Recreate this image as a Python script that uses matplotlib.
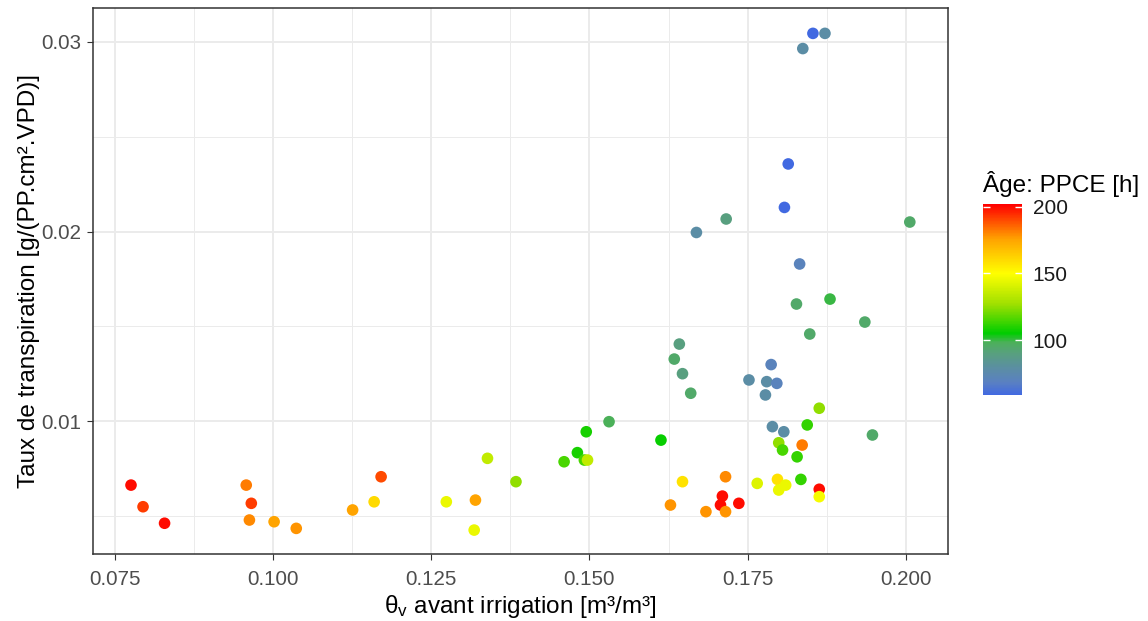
import numpy as np
import matplotlib
matplotlib.use("Agg")
import matplotlib.pyplot as plt
from matplotlib.colors import LinearSegmentedColormap, Normalize
from matplotlib.ticker import MultipleLocator, FixedLocator

plt.rcParams['font.family'] = ['Liberation Sans', 'DejaVu Sans']
plt.rcParams['mathtext.fontset'] = 'custom'
plt.rcParams['mathtext.rm'] = 'Liberation Sans'
plt.rcParams['mathtext.it'] = 'Liberation Sans'

# teneur en eau avant irrigation [m3/m3]
theta_v = [0.0776, 0.0795, 0.0829, 0.0958, 0.0966, 0.0963, 0.1002, 0.1037, 0.1126, 0.1160,
           0.1171, 0.1274, 0.1320, 0.1318, 0.1339, 0.1384, 0.1460, 0.1481, 0.1492, 0.1497,
           0.1495, 0.1531, 0.1613, 0.1660, 0.1647, 0.1628, 0.1684, 0.1715, 0.1710, 0.1707,
           0.1715, 0.1736, 0.1765, 0.1752, 0.1780, 0.1796, 0.1778, 0.1863, 0.1844, 0.1789,
           0.1807, 0.1799, 0.1805, 0.1836, 0.1828, 0.1947, 0.1797, 0.1810, 0.1799, 0.1834,
           0.1863, 0.1863, 0.1853, 0.1872, 0.1837, 0.1814, 0.1808, 0.1716, 0.1669, 0.2006,
           0.1832, 0.1827, 0.1880, 0.1935, 0.1848, 0.1642, 0.1634, 0.1647, 0.1787]

# taux de transpiration [g/(PP.cm2.VPD)]
taux = [0.00664, 0.00550, 0.00463, 0.00664, 0.00568, 0.00480, 0.00471, 0.00436, 0.00533, 0.00576,
        0.00708, 0.00576, 0.00585, 0.00427, 0.00805, 0.00682, 0.00787, 0.00835, 0.00796, 0.00796,
        0.00945, 0.00998, 0.00901, 0.01148, 0.00682, 0.00559, 0.00524, 0.00708, 0.00606, 0.00559,
        0.00524, 0.00568, 0.00673, 0.01218, 0.01209, 0.01200, 0.01139, 0.01069, 0.00981, 0.00972,
        0.00945, 0.00887, 0.00849, 0.00875, 0.00813, 0.00928, 0.00694, 0.00664, 0.00638, 0.00694,
        0.00642, 0.00603, 0.03044, 0.03044, 0.02964, 0.02356, 0.02127, 0.02066, 0.01995, 0.02050,
        0.01829, 0.01618, 0.01644, 0.01523, 0.01460, 0.01407, 0.01328, 0.01251, 0.01299]

# age PPCE [h]
age = [200, 192, 200, 182, 192, 180, 175, 178, 175, 160,
       190, 145, 175, 145, 135, 125, 115, 108, 115, 135,
       108, 98, 106, 95, 158, 178, 178, 180, 200, 200,
       178, 200, 142, 78, 78, 70, 78, 125, 112, 78,
       78, 125, 115, 182, 112, 95, 158, 145, 145, 112,
       200, 148, 59, 78, 78, 59, 59, 90, 78, 95,
       70, 95, 100, 95, 95, 90, 95, 90, 70]

vmin, vmax = 58.8, 201.8
stops = [(58.8, '#4169E1'), (68, '#5A80C2'), (78, '#5B8DA5'), (90, '#58A07E'),
         (98, '#4CB05A'), (105, '#00CD00'), (127, '#A0E000'), (150, '#FFFF00'),
         (176, '#FFA200'), (201.8, '#FF0000')]
cmap = LinearSegmentedColormap.from_list(
    'ppce', [((a - vmin) / (vmax - vmin), c) for a, c in stops])
norm = Normalize(vmin=vmin, vmax=vmax)

fig = plt.figure(figsize=(11.48, 6.21), dpi=100)
ax = fig.add_axes([0.0813, 0.1079, 0.8256 - 0.0813, 0.9866 - 0.1079])

ax.scatter(theta_v, taux, c=age, cmap=cmap, norm=norm, s=70, linewidths=0, zorder=3)

ax.set_xlim(0.07165, 0.2066)
ax.set_ylim(0.00301, 0.03176)
ax.xaxis.set_major_locator(MultipleLocator(0.025))
ax.xaxis.set_minor_locator(FixedLocator([0.0875, 0.1125, 0.1375, 0.1625, 0.1875]))
ax.yaxis.set_major_locator(FixedLocator([0.01, 0.02, 0.03]))
ax.yaxis.set_minor_locator(FixedLocator([0.005, 0.015, 0.025]))
ax.set_xticklabels([f"{v:.3f}" for v in ax.get_xticks()])
ax.set_yticklabels(["0.01", "0.02", "0.03"])

ax.grid(which='major', color='#EBEBEB', lw=1.4, zorder=0)
ax.grid(which='minor', color='#EBEBEB', lw=0.7, zorder=0)
ax.set_axisbelow(True)
for sp in ax.spines.values():
    sp.set_color('#333333')
    sp.set_linewidth(1.1)
ax.tick_params(which='major', length=4.3, width=0.8, color='#333333',
               labelsize=14.8, labelcolor='#4D4D4D')
ax.tick_params(axis='x', which='major', pad=7.3)
ax.tick_params(axis='y', which='major', pad=4.5)
ax.tick_params(which='minor', length=0)

ax.set_xlabel(r"θ$_{\mathrm{v}}$ avant irrigation [m³/m³]", fontsize=17.5, labelpad=3)
ax.set_ylabel("Taux de transpiration [g/(PP.cm².VPD)]", fontsize=17.5, labelpad=0.5)

# barre de couleur façon ggplot
cax = fig.add_axes([0.8566, 0.3639, 0.8900 - 0.8566, 0.3071])
sm = matplotlib.cm.ScalarMappable(norm=norm, cmap=cmap)
cb = fig.colorbar(sm, cax=cax, ticks=[100, 150, 200])
cb.outline.set_visible(False)
cax.tick_params(direction='in', length=5, width=1, color='white', labelsize=15,
                labelcolor='#1A1A1A', pad=8, left=True, right=True)
cax.set_title("Âge: PPCE [h]", fontsize=17.5, loc='left', pad=9, x=-0.02)

fig.savefig("out.png", dpi=100)
